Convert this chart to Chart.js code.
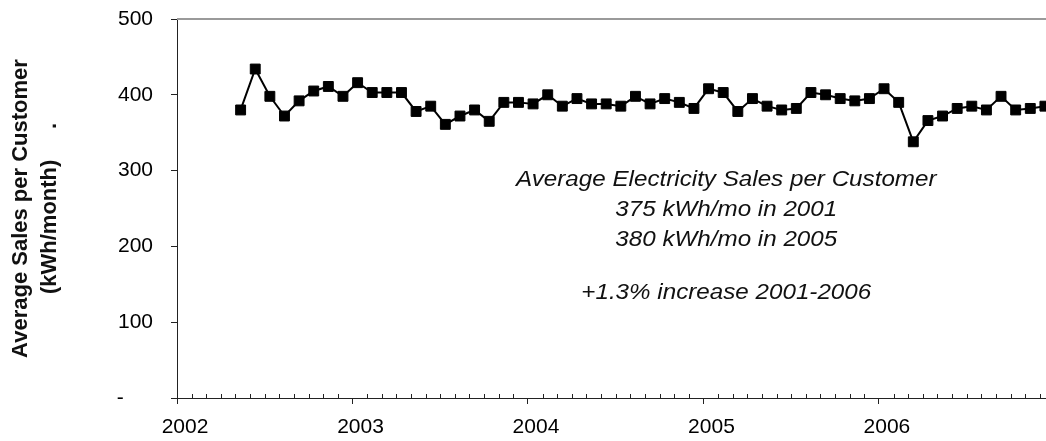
<!DOCTYPE html>
<html>
<head>
<meta charset="utf-8">
<script src="https://cdn.jsdelivr.net/npm/chart.js@4.4.0/dist/chart.umd.min.js"></script>
<style>
  html, body { margin: 0; padding: 0; background: #fff; }
</style>
</head>
<body>
<canvas id="salesChart" width="1046" height="441"></canvas>
<script>
// monthly average sales per customer (kWh/month)
const months = [
  '2002-05', '2002-06', '2002-07', '2002-08', '2002-09', '2002-10', '2002-11', '2002-12',
  '2003-01', '2003-02', '2003-03', '2003-04', '2003-05', '2003-06', '2003-07', '2003-08', '2003-09', '2003-10', '2003-11', '2003-12',
  '2004-01', '2004-02', '2004-03', '2004-04', '2004-05', '2004-06', '2004-07', '2004-08', '2004-09', '2004-10', '2004-11', '2004-12',
  '2005-01', '2005-02', '2005-03', '2005-04', '2005-05', '2005-06', '2005-07', '2005-08', '2005-09', '2005-10', '2005-11', '2005-12',
  '2006-01', '2006-02', '2006-03', '2006-04', '2006-05', '2006-06', '2006-07', '2006-08', '2006-09', '2006-10', '2006-11', '2006-12'
];
const avgSales = [
  380, 434, 398, 372, 392, 405, 411, 398,
  416, 403, 403, 403, 378, 385, 361, 372, 380, 365, 390, 390,
  388, 400, 385, 395, 388, 388, 385, 398, 388, 395, 390, 382,
  408, 403, 378, 395, 385, 380, 382, 403, 400, 395, 392, 395,
  408, 390, 338, 366, 372, 382, 385, 380, 398, 380, 382, 385
];
const yearTicks = [2002, 2003, 2004, 2005, 2006];
const salesTicks = [0, 100, 200, 300, 400, 500];
const noteLines = [
  'Average Electricity Sales per Customer',
  '375 kWh/mo in 2001',
  '380 kWh/mo in 2005',
  '+1.3% increase 2001-2006'
];

const FONT = "'Liberation Sans', Arial, sans-serif";

// a month string -> decimal year (points sit a little into the month)
function toYear(m) {
  const [yr, mo] = m.split('-').map(Number);
  return yr + (mo - 1 + 0.35) / 12;
}

const points = months.map((m, i) => ({ x: toYear(m), y: avgSales[i] }));

// top frame line, inward monthly ticks and the text note
const chartExtras = {
  id: 'chartExtras',
  afterDraw(chart) {
    const { ctx, chartArea: a, scales: { x, y } } = chart;
    ctx.save();

    ctx.strokeStyle = '#9a9a9a';
    ctx.lineWidth = 2;
    ctx.beginPath();
    ctx.moveTo(a.left, a.top);
    ctx.lineTo(a.right, a.top);
    ctx.stroke();

    ctx.strokeStyle = '#222';
    ctx.lineWidth = 1;
    for (let m = 1; 2002 + m / 12 <= x.max; m++) {
      if (m % 12 === 0) continue;
      const px = Math.round(x.getPixelForValue(2002 + m / 12)) + 0.5;
      ctx.beginPath();
      ctx.moveTo(px, a.bottom);
      ctx.lineTo(px, a.bottom - 4);
      ctx.stroke();
    }

    // note text, placed on the value scale
    const levels = [280, 240, 200, 131];
    const cx = x.getPixelForValue(2005.13);
    ctx.fillStyle = '#111';
    ctx.font = 'italic 22px ' + FONT;
    ctx.textAlign = 'center';
    ctx.textBaseline = 'alphabetic';
    noteLines.forEach((line, i) => {
      ctx.save();
      ctx.translate(cx, y.getPixelForValue(levels[i]));
      ctx.scale(1.1, 1);
      ctx.fillText(line, 0, 0);
      ctx.restore();
    });

    ctx.restore();
  }
};

new Chart(document.getElementById('salesChart'), {
  type: 'line',
  data: {
    datasets: [{
      label: 'Average Sales per Customer',
      data: points,
      borderColor: '#000',
      borderWidth: 2,
      backgroundColor: '#000',
      pointStyle: 'rect',
      pointRadius: 7,
      pointBorderWidth: 1,
      pointBackgroundColor: '#000',
      pointBorderColor: '#000',
      tension: 0,
      fill: false,
      clip: false
    }]
  },
  options: {
    responsive: false,
    animation: false,
    layout: { autoPadding: false, padding: { top: 19, right: 0, bottom: 0, left: 0 } },
    plugins: {
      legend: { display: false },
      tooltip: { enabled: false }
    },
    scales: {
      x: {
        type: 'linear',
        min: 2002,
        max: 2006.952,
        afterBuildTicks: (scale) => { scale.ticks = yearTicks.map(v => ({ value: v })); },
        afterFit: (scale) => { scale.height = 43; },
        grid: { drawOnChartArea: false, tickLength: 6, color: '#222' },
        border: { color: '#222', width: 1 },
        ticks: {
          callback: (v) => String(v),
          font: { family: FONT, size: 21 },
          color: '#000',
          padding: 11,
          labelOffset: 8,
          maxRotation: 0,
          autoSkip: false
        }
      },
      y: {
        min: 0,
        max: 500,
        afterBuildTicks: (scale) => { scale.ticks = salesTicks.map(v => ({ value: v })); },
        afterFit: (scale) => {
          scale.width = 177;
          scale.paddingTop = 0;
          scale.paddingBottom = 0;
        },
        grid: { drawOnChartArea: false, tickLength: 6, color: '#222' },
        border: { color: '#222', width: 1 },
        ticks: {
          callback: (v) => (v === 0 ? '-     ' : String(v)),
          font: { family: FONT, size: 21 },
          color: '#000',
          padding: 18
        },
        title: {
          display: true,
          text: ['Average Sales per Customer', '(kWh/month)     .'],
          font: { family: FONT, size: 22, weight: 'bold', lineHeight: 1.32 },
          color: '#111',
          padding: { top: 6, bottom: 0 }
        }
      }
    }
  },
  plugins: [chartExtras]
});
</script>
</body>
</html>
